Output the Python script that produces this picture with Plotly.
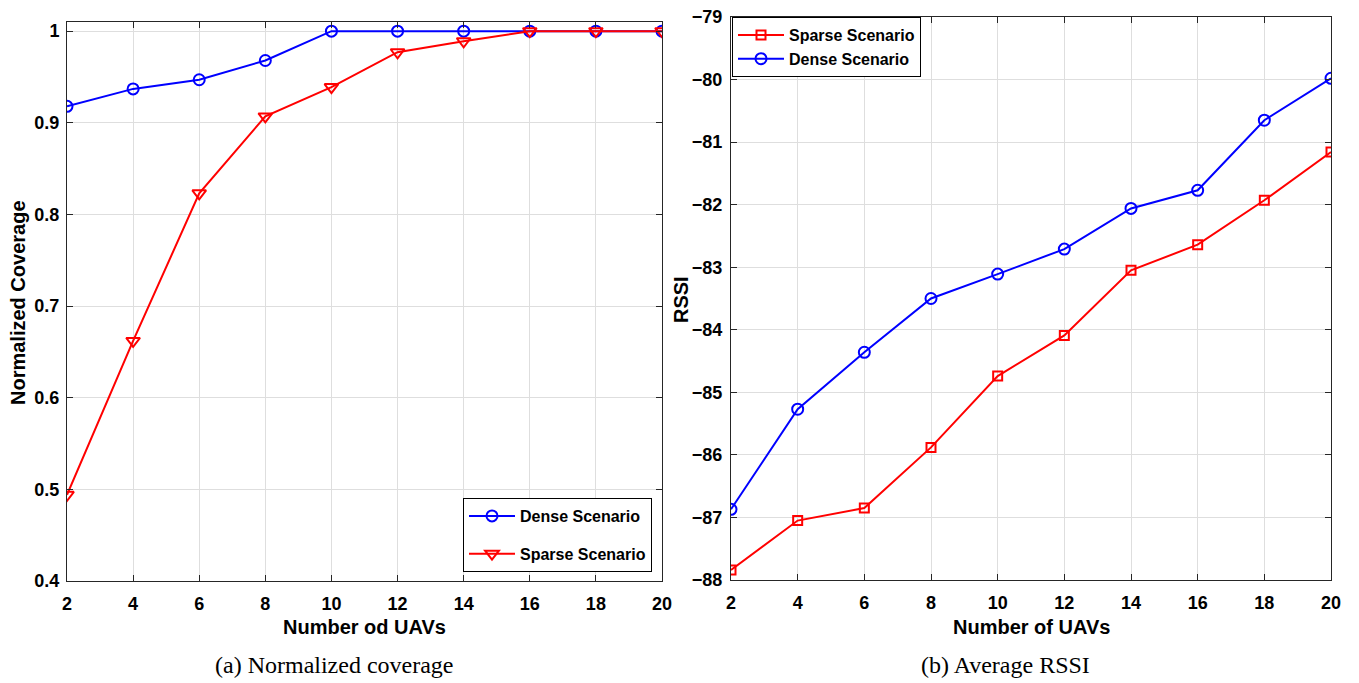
import plotly.graph_objects as go

uavs = [2, 4, 6, 8, 10, 12, 14, 16, 18, 20]
cov_dense = [0.918, 0.937, 0.947, 0.968, 1.0, 1.0, 1.0, 1.0, 1.0, 1.0]
cov_sparse = [0.494, 0.662, 0.823, 0.907, 0.939, 0.977, 0.989, 1.0, 1.0, 1.0]
rssi_sparse = [-87.84, -87.05, -86.85, -85.88, -84.74, -84.09, -83.05, -82.64, -81.93, -81.16]
rssi_dense = [-86.87, -85.27, -84.36, -83.50, -83.11, -82.71, -82.06, -81.77, -80.65, -79.98]

# The page body has an 8px margin, so the figure is offset by 8px.
OFF = 8
W, H = 1359 - OFF, 683 - OFF
def px(x):
    return (x - OFF) / W
def py(y):
    return 1 - (y - OFF) / H

BLUE = "#0000ff"
RED = "#ff0000"
SANS = "Liberation Sans, Arial, sans-serif"
TICKFONT = dict(family=SANS, size=18, color="#000000", weight="bold")
AXCOL = "#262626"
GRID = "#dedede"

fig = go.Figure()

fig.add_trace(go.Scatter(x=uavs, y=cov_dense, mode="lines+markers", name="Dense Scenario",
                         line=dict(color=BLUE, width=2),
                         marker=dict(symbol="circle-open", size=11, color=BLUE, line=dict(width=2)),
                         xaxis="x", yaxis="y", legend="legend", legendgroup="a1"))
fig.add_trace(go.Scatter(x=uavs, y=cov_sparse, mode="lines+markers", name="Sparse Scenario",
                         line=dict(color=RED, width=2),
                         marker=dict(symbol="triangle-down-open", size=12, color=RED, line=dict(width=2)),
                         xaxis="x", yaxis="y", legend="legend", legendgroup="a2"))
fig.add_trace(go.Scatter(x=uavs, y=rssi_sparse, mode="lines+markers", name="Sparse Scenario",
                         line=dict(color=RED, width=2),
                         marker=dict(symbol="square-open", size=9, color=RED, line=dict(width=2)),
                         xaxis="x2", yaxis="y2", legend="legend2"))
fig.add_trace(go.Scatter(x=uavs, y=rssi_dense, mode="lines+markers", name="Dense Scenario",
                         line=dict(color=BLUE, width=2),
                         marker=dict(symbol="circle-open", size=11, color=BLUE, line=dict(width=2)),
                         xaxis="x2", yaxis="y2", legend="legend2"))

common = dict(showline=True, linecolor=AXCOL, linewidth=1, mirror="allticks",
              ticks="inside", ticklen=6, tickcolor=AXCOL, tickwidth=1,
              showgrid=True, gridcolor=GRID, gridwidth=1, zeroline=False,
              tickfont=TICKFONT, automargin=False, ticklabeloverflow="allow")

fig.update_layout(
    width=W, height=H,
    margin=dict(l=0, r=0, t=0, b=0, autoexpand=False),
    paper_bgcolor="white", plot_bgcolor="white",
    xaxis=dict(domain=[px(67), px(662)], range=[2, 20], dtick=2, tick0=2, anchor="y",
               ticklabelstandoff=6, **common),
    yaxis=dict(domain=[py(581), py(22)], range=[0.4, 1.01], tickvals=[0.4, 0.5, 0.6, 0.7, 0.8, 0.9, 1.0],
               ticktext=["0.4", "0.5", "0.6", "0.7", "0.8", "0.9", "1"], anchor="x",
               ticklabelstandoff=3, **common),
    xaxis2=dict(domain=[px(731), px(1331)], range=[2, 20], dtick=2, tick0=2, anchor="y2",
                ticklabelstandoff=6, **common),
    yaxis2=dict(domain=[py(580), py(17)], range=[-88, -79], dtick=1, anchor="x2",
                ticklabelstandoff=4, **common),
    legend=dict(x=px(463), y=py(498), xanchor="left", yanchor="top",
                bgcolor="white", bordercolor="#000000", borderwidth=1,
                font=dict(family=SANS, size=16, color="#000000", weight="bold"),
                traceorder="grouped", tracegroupgap=14, itemwidth=46),
    legend2=dict(x=px(732), y=py(17), xanchor="left", yanchor="top",
                 bgcolor="white", bordercolor="#000000", borderwidth=1,
                 font=dict(family=SANS, size=16, color="#000000", weight="bold"),
                 itemwidth=46, tracegroupgap=0),
    showlegend=True,
)

ann_font = dict(family=SANS, size=20, color="#000000", weight="bold")
cap_font = dict(family="Liberation Serif, Times New Roman, serif", size=24, color="#000000")
def ann(text, x, y, font, angle=0):
    fig.add_annotation(text=text, x=px(x), y=py(y), xref="paper", yref="paper",
                       xanchor="center", yanchor="middle", showarrow=False,
                       textangle=angle, font=font)

ann("Number od UAVs", 364, 627, ann_font)
ann("Number of UAVs", 1031, 627, ann_font)
ann("Normalized Coverage", 18, 303, ann_font, -90)
ann("RSSI", 681, 300, ann_font, -90)
ann("(a) Normalized coverage", 334, 665, cap_font)
ann("(b) Average RSSI", 1005, 665, cap_font)

fig.write_html("out.html")
